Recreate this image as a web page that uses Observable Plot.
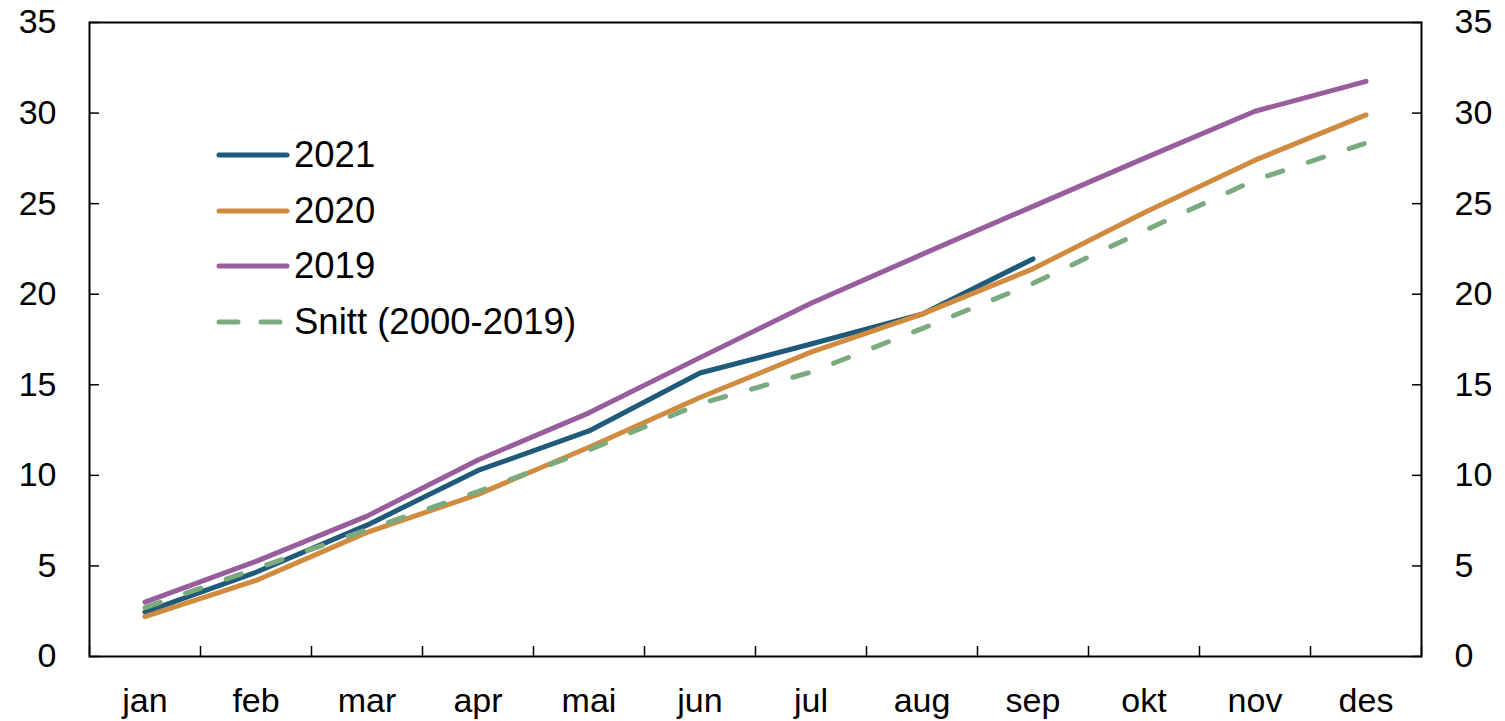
<!DOCTYPE html>
<html>
<head>
<meta charset="utf-8">
<script src="https://cdn.jsdelivr.net/npm/d3@7"></script>
<script src="https://cdn.jsdelivr.net/npm/@observablehq/plot@0.6"></script>
<style>
  html, body { margin: 0; padding: 0; background: #fff; }
  #wrap { position: relative; width: 1505px; height: 721px; font-family: "Liberation Sans", Arial, sans-serif; }
  #legend { position: absolute; left: 216px; top: 127px; }
  .row { display: flex; align-items: center; height: 55.7px; font-size: 36.5px; color: #000; }
  .row svg { margin-right: 2px; }
</style>
</head>
<body>
<div id="wrap"><div id="legend"></div></div>
<script>
const months = ["jan", "feb", "mar", "apr", "mai", "jun", "jul", "aug", "sep", "okt", "nov", "des"];
const seriesNames = ["2021", "2020", "2019", "Snitt (2000-2019)"];
const seriesColors = ["#1f5a7a", "#d08b3f", "#985d9c", "#7aaa7e"];
const v2021 = [2.45, 4.65, 7.25, 10.27, 12.45, 15.65, 17.25, 18.9, 21.95];
const v2020 = [2.2, 4.2, 6.85, 8.95, 11.55, 14.3, 16.8, 18.9, 21.4, 24.5, 27.4, 29.9];
const v2019 = [3.0, 5.25, 7.75, 10.85, 13.45, 16.5, 19.5, 22.2, 24.85, 27.5, 30.1, 31.75];
const snitt = [2.7, 4.85, 7.0, 9.1, 11.4, 13.95, 15.7, 18.1, 20.6, 23.5, 26.3, 28.35];
const yTicks = [0, 5, 10, 15, 20, 25, 30, 35];

const toRows = (vals, name) => vals.map((v, i) => ({i, v, series: name}));
const rows2021 = toRows(v2021, seriesNames[0]);
const rows2020 = toRows(v2020, seriesNames[1]);
const rows2019 = toRows(v2019, seriesNames[2]);
const rowsSnitt = toRows(snitt, seriesNames[3]);

const monthIdx = d3.range(months.length);
const boundaries = d3.range(months.length + 1).map(i => i - 0.5);

const chart = Plot.plot({
  width: 1505,
  height: 721,
  marginLeft: 89,
  marginRight: 84,
  marginTop: 22,
  marginBottom: 65,
  x: {domain: [-0.5, months.length - 0.5]},
  y: {domain: [0, 35]},
  color: {domain: seriesNames, range: seriesColors},
  style: {fontFamily: "'Liberation Sans', Arial, sans-serif", fontSize: "34px", color: "#000", background: "#fff"},
  marks: [
    Plot.axisX(monthIdx, {tickSize: 0, tickPadding: 31, tickFormat: i => months[i], label: null, fontSize: 34}),
    Plot.axisX(boundaries, {tickSize: -10, tickFormat: () => "", label: null, strokeWidth: 1.5}),
    Plot.axisY(yTicks, {anchor: "left", tickSize: 0, tickPadding: 33, label: null, fontSize: 34}),
    Plot.axisY(yTicks, {anchor: "left", tickSize: -10, tickFormat: () => "", label: null, strokeWidth: 1.5}),
    Plot.axisY(yTicks, {anchor: "right", tickSize: 0, tickPadding: 33, label: null, fontSize: 34}),
    Plot.axisY(yTicks, {anchor: "right", tickSize: -10, tickFormat: () => "", label: null, strokeWidth: 1.5}),
    Plot.frame({stroke: "#000", strokeWidth: 2}),
    Plot.line(rows2019, {x: "i", y: "v", stroke: "series", strokeWidth: 5, strokeLinecap: "round", strokeLinejoin: "round"}),
    Plot.line(rows2021, {x: "i", y: "v", stroke: "series", strokeWidth: 5, strokeLinecap: "round", strokeLinejoin: "round"}),
    Plot.line(rows2020, {x: "i", y: "v", stroke: "series", strokeWidth: 5, strokeLinecap: "round", strokeLinejoin: "round"}),
    Plot.line(rowsSnitt, {x: "i", y: "v", stroke: "series", strokeWidth: 5, strokeLinecap: "round", strokeDasharray: "16,27"})
  ]
});
document.getElementById("wrap").prepend(chart);

const legend = document.getElementById("legend");
seriesNames.forEach((name, k) => {
  const row = document.createElement("div");
  row.className = "row";
  const dashed = k === 3;
  row.innerHTML = `<svg width="76" height="12"><line x1="3" y1="6" x2="71" y2="6" stroke="${seriesColors[k]}" stroke-width="5" stroke-linecap="round" ${dashed ? 'stroke-dasharray="19,23"' : ""}/></svg><span>${name}</span>`;
  legend.appendChild(row);
});
</script>
</body>
</html>
